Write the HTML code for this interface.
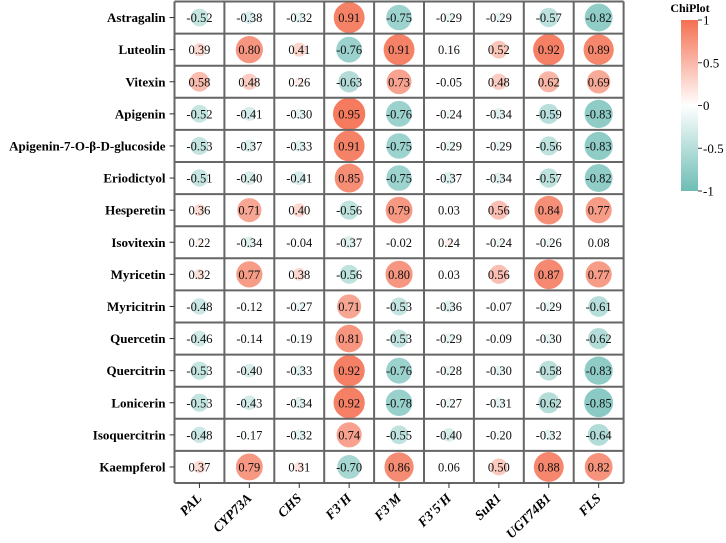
<!DOCTYPE html>
<html><head><meta charset="utf-8"><style>
body{margin:0;background:#fff;}
svg text{font-family:"Liberation Serif","Times New Roman",serif;}
</style></head><body>
<svg id="chart" width="726" height="538" font-family="Liberation Serif, serif"></svg>
<script>
const rows=["Astragalin","Luteolin","Vitexin","Apigenin","Apigenin-7-O-β-D-glucoside","Eriodictyol","Hesperetin","Isovitexin","Myricetin","Myricitrin","Quercetin","Quercitrin","Lonicerin","Isoquercitrin","Kaempferol"];
const cols=["PAL","CYP73A","CHS","F3'H","F3'M","F3'5'H","SuR1","UGT74B1","FLS"];
const values=[
[-0.52,-0.38,-0.32,0.91,-0.75,-0.29,-0.29,-0.57,-0.82],
[0.39,0.80,0.41,-0.76,0.91,0.16,0.52,0.92,0.89],
[0.58,0.48,0.26,-0.63,0.73,-0.05,0.48,0.62,0.69],
[-0.52,-0.41,-0.30,0.95,-0.76,-0.24,-0.34,-0.59,-0.83],
[-0.53,-0.37,-0.33,0.91,-0.75,-0.29,-0.29,-0.56,-0.83],
[-0.51,-0.40,-0.41,0.85,-0.75,-0.37,-0.34,-0.57,-0.82],
[0.36,0.71,0.40,-0.56,0.79,0.03,0.56,0.84,0.77],
[0.22,-0.34,-0.04,-0.37,-0.02,0.24,-0.24,-0.26,0.08],
[0.32,0.77,0.38,-0.56,0.80,0.03,0.56,0.87,0.77],
[-0.48,-0.12,-0.27,0.71,-0.53,-0.36,-0.07,-0.29,-0.61],
[-0.46,-0.14,-0.19,0.81,-0.53,-0.29,-0.09,-0.30,-0.62],
[-0.53,-0.40,-0.33,0.92,-0.76,-0.28,-0.30,-0.58,-0.83],
[-0.53,-0.43,-0.34,0.92,-0.78,-0.27,-0.31,-0.62,-0.85],
[-0.48,-0.17,-0.32,0.74,-0.55,-0.40,-0.20,-0.32,-0.64],
[0.37,0.79,0.31,-0.70,0.86,0.06,0.50,0.88,0.82]];
const legendTicks=[1,0.5,0,-0.5,-1];
const legendLabels=["1","0.5","0","-0.5","-1"];

const NS="http://www.w3.org/2000/svg";
const svg=document.getElementById('chart');
const FF='Liberation Serif, Times New Roman, serif';
function mk(t,a,p){const e=document.createElementNS(NS,t);for(const k in a)e.setAttribute(k,a[k]);if(t==='text')e.setAttribute('font-family',FF);(p||svg).appendChild(e);return e;}
const X0=174.5,Y0=1.5,CW=49.9,RH=32.1;
const xC=j=>X0+CW*(j+0.5), yC=i=>Y0+RH*(i+0.5);
const POS=[244,112,82],NEG=[109,189,181];
function col(v,lin){const c=v>=0?POS:NEG;let t=Math.min(1,Math.abs(v));if(!lin)t=Math.pow(t,1.4);return `rgb(${c.map(x=>Math.round(255+(x-255)*t)).join(',')})`;}
const gW=CW*cols.length,gH=RH*rows.length;
mk('rect',{x:X0,y:Y0,width:gW,height:gH,fill:'#fff'});
values.forEach((r,i)=>r.forEach((v,j)=>{
  const c=mk('circle',{cx:xC(j),cy:yC(i),r:Math.abs(v)*17,fill:col(v)});
  
  
  const t=mk('text',{x:xC(j),y:yC(i)+4.5,'text-anchor':'middle','font-size':12.5,fill:'#111'});
  t.textContent=v.toFixed(2);
  
  
}));
for(let j=0;j<=cols.length;j++)mk('line',{x1:X0+CW*j,x2:X0+CW*j,y1:Y0,y2:Y0+gH,stroke:'#666','stroke-width':2});
for(let i=0;i<=rows.length;i++)mk('line',{x1:X0,x2:X0+gW,y1:Y0+RH*i,y2:Y0+RH*i,stroke:'#666','stroke-width':2});
rows.forEach((n,i)=>{
  mk('line',{x1:X0-5,x2:X0,y1:yC(i),y2:yC(i),stroke:'#333'});
  const t=mk('text',{x:X0-9,y:yC(i)+4.5,'text-anchor':'end','font-size':13,'font-weight':'bold'});
  t.textContent=n;
  
  
});
cols.forEach((n,j)=>{
  mk('line',{x1:xC(j),x2:xC(j),y1:Y0+gH,y2:Y0+gH+5,stroke:'#333'});
  const t=mk('text',{x:xC(j)+3,y:Y0+gH+16,'text-anchor':'end','font-size':13.5,'font-weight':'bold','font-style':'italic',transform:`rotate(-45 ${xC(j)+3} ${Y0+gH+16})`});
  t.textContent=n;
  
  
});
const defs=mk('defs',{});
const g=mk('linearGradient',{id:'lg',x1:0,y1:0,x2:0,y2:1},defs);
mk('stop',{offset:'0',  'stop-color':col(1,true)},g);
mk('stop',{offset:'0.5','stop-color':'#fff'},g);
mk('stop',{offset:'1',  'stop-color':col(-1,true)},g);
const LY0=20,LY1=191;
const ly=v=>LY0+(1-v)/2*(LY1-LY0);
const lb=mk('rect',{x:681,y:LY0,width:17,height:LY1-LY0,fill:'url(#lg)'});


const tt=mk('text',{x:690,y:12,'text-anchor':'middle','font-size':12,'font-weight':'bold'});
tt.textContent='ChiPlot';


legendTicks.forEach((v,k)=>{
  mk('line',{x1:698,x2:702,y1:ly(v),y2:ly(v),stroke:'#333'});
  const t=mk('text',{x:703,y:ly(v)+4.5,'font-size':13});
  t.textContent=legendLabels[k];
  
  
});
</script>
</body></html>
